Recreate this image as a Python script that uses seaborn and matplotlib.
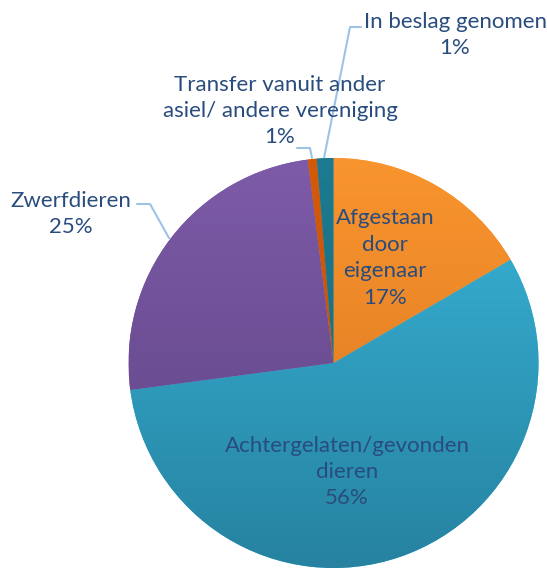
import matplotlib
matplotlib.use("Agg")
import matplotlib.pyplot as plt
import matplotlib.colors as mcolors
import numpy as np
import seaborn as sns

# ── Data ──────────────────────────────────────────────────────────────────────
categories = [
    "Afgestaan\ndoor\neigenaar",
    "Achtergelaten/gevonden\ndieren",
    "Zwerfdieren",
    "Transfer vanuit ander\nasiel/ andere vereniging",
    "In beslag genomen",
]
shares = [16.6, 56.3, 25.1, 0.7, 1.3]
top_colors = ["#F9952E", "#39B6DA", "#7E5BA8", "#D45A0A", "#1D7A90"]
bottom_colors = ["#D8731F", "#2682A0", "#5B4282", "#C04E08", "#17677A"]

# ── Layout (pixel coordinates, y up) ─────────────────────────────────────────
W, H = 547, 570
CX, CY, R = 333.5, 570 - 363, 205
TEXT_COLOR = "#294C7E"
LINE_COLOR = "#9DC3E6"

sns.set_theme(style="white")
plt.rcParams["font.family"] = ["Lato", "DejaVu Sans"]

fig = plt.figure(figsize=(W / 100, H / 100), dpi=100)
ax = fig.add_axes([0, 0, 1, 1])

wedges, _ = ax.pie(shares, startangle=90, counterclock=False,
                   center=(CX, CY), radius=R, colors=top_colors,
                   wedgeprops=dict(linewidth=0))

# vertical gradient fill per slice
grad = np.linspace(0, 1, 256).reshape(-1, 1)
for w, c0, c1 in zip(wedges, top_colors, bottom_colors):
    cmap = mcolors.LinearSegmentedColormap.from_list("g", [c1, c0])
    im = ax.imshow(grad, cmap=cmap, origin="lower", aspect="auto",
                   extent=(CX - R, CX + R, CY - R, CY + R), zorder=2)
    im.set_clip_path(w)
ax.set_xlim(0, W)
ax.set_ylim(0, H)
ax.set_aspect("equal")
ax.axis("off")

# ── Labels ───────────────────────────────────────────────────────────────────
def pct(v):
    return f"{v:.0f}%"

label_pos = [(385, 258), (347, 472), (71, 214), (280, 111), (455, 35)]
for name, v, (x, y) in zip(categories, shares, label_pos):
    ax.text(x, H - y, f"{name}\n{pct(v)}", ha="center", va="center",
            fontsize=16, color=TEXT_COLOR, linespacing=1.4, zorder=5)

# leader lines
leaders = [
    [(137, 204), (150, 204), (169, 238)],
    [(297, 148), (310, 148), (312, 158)],
    [(361, 27), (350, 27), (324, 158)],
]
for pts in leaders:
    xs, ys = zip(*pts)
    ax.plot(xs, [H - y for y in ys], color=LINE_COLOR, lw=1.5, zorder=1)

fig.savefig("out.png", dpi=100)
